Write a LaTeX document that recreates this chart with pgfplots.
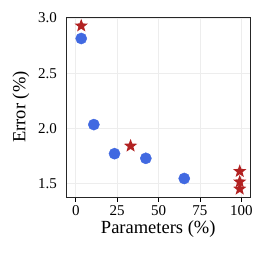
\documentclass[border=0pt]{standalone}
\usepackage{pgfplots}
\pgfplotsset{compat=1.18}
\usepackage{fontspec}
\setmainfont{Liberation Serif}
\definecolor{royal}{RGB}{65,105,225}
\definecolor{fire}{RGB}{178,34,34}
\pgfdeclareplotmark{fstar}{%
  \pgfpathmoveto{\pgfpointpolar{90}{\pgfplotmarksize}}%
  \pgfpathlineto{\pgfpointpolar{126}{0.42\pgfplotmarksize}}%
  \pgfpathlineto{\pgfpointpolar{162}{\pgfplotmarksize}}%
  \pgfpathlineto{\pgfpointpolar{198}{0.42\pgfplotmarksize}}%
  \pgfpathlineto{\pgfpointpolar{234}{\pgfplotmarksize}}%
  \pgfpathlineto{\pgfpointpolar{270}{0.42\pgfplotmarksize}}%
  \pgfpathlineto{\pgfpointpolar{306}{\pgfplotmarksize}}%
  \pgfpathlineto{\pgfpointpolar{342}{0.42\pgfplotmarksize}}%
  \pgfpathlineto{\pgfpointpolar{18}{\pgfplotmarksize}}%
  \pgfpathlineto{\pgfpointpolar{54}{0.42\pgfplotmarksize}}%
  \pgfpathclose
  \pgfusepathqfill}
\begin{document}
\begin{tikzpicture}
\begin{axis}[name=ax,
  scale only axis, width=183.5bp, height=180bp,
  xmin=-5.6, xmax=105.2, ymin=1.377, ymax=3.01,
  xtick={0,25,50,75,100}, ytick={1.5,2.0,2.5,3.0},
  yticklabel style={/pgf/number format/fixed,/pgf/number format/fixed zerofill,/pgf/number format/precision=1},
  /pgf/number format/assume math mode=true,
  tick label style={font=\fontsize{15bp}{16bp}\selectfont},
  label style={font=\fontsize{18.5bp}{20bp}\selectfont},
  xlabel={Parameters (\%)}, ylabel={Error (\%)},
  grid=major, major grid style={color=black!7, line width=0.6bp},
  axis line style={draw=black!85, line width=0.9bp},
  xtick pos=bottom, ytick pos=left,
  xtick align=outside, major x tick style={draw=black, line width=0.8bp},
  major tick length=4.5bp,
  major y tick style={draw=none},
  xticklabel style={yshift=-1bp},
  yticklabel style={xshift=-6bp},
  xlabel style={yshift=2bp},
  ylabel style={yshift=2bp},
]
\addplot[only marks, mark=*, mark size=5.6bp, royal, mark options={draw=royal, fill=royal}] coordinates {
(3.3,2.815) (10.9,2.034) (23.4,1.77) (42.3,1.728) (65.5,1.545)
};
\addplot[only marks, mark=fstar, mark size=7bp, fire, mark options={draw=fire, fill=fire}] coordinates {
(3.3,2.93) (33.1,1.84) (99,1.61) (99,1.515) (99,1.45)
};
\end{axis}
\pgfresetboundingbox
\path (ax.south west) ++(-66.5bp,-63bp) rectangle ++(266bp,260bp);
\end{tikzpicture}
\end{document}
